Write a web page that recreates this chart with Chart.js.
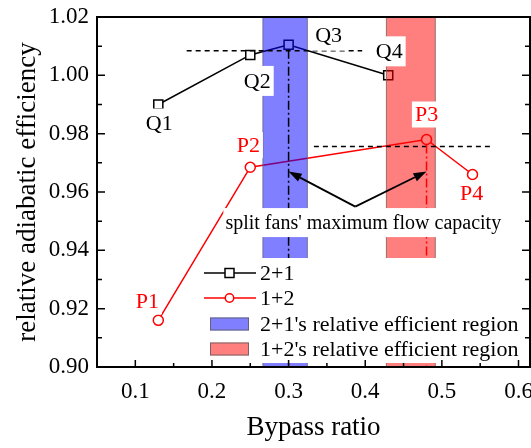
<!DOCTYPE html>
<html>
<head>
<meta charset="utf-8">
<script src="https://cdn.jsdelivr.net/npm/chart.js@4.4.0/dist/chart.umd.min.js"></script>
<style>
  html, body { margin: 0; padding: 0; background: #fff; }
  canvas { display: block; }
</style>
</head>
<body>
<canvas id="effChart" width="531" height="448"></canvas>
<script>
// data
const bypass21 = [0.13, 0.25, 0.30, 0.43];
const eff21 = [0.990, 1.007, 1.0105, 1.000];
const names21 = ['Q1', 'Q2', 'Q3', 'Q4'];
const bypass12 = [0.13, 0.25, 0.48, 0.54];
const eff12 = [0.916, 0.9685, 0.978, 0.966];
const names12 = ['P1', 'P2', 'P3', 'P4'];
const region21 = [0.266, 0.325];
const region12 = [0.427, 0.492];
const maxFlow = [0.30, 0.48];
const refLine21 = [0.167, 0.396, 1.0084];
const refLine12 = [0.333, 0.567, 0.9756];
const arrowFrom = [0.387, 0.955];
const arrowTo = [[0.30, 0.967], [0.48, 0.967]];
const xTicks = [0.1, 0.2, 0.3, 0.4, 0.5, 0.6];
const yTicks = [0.90, 0.92, 0.94, 0.96, 0.98, 1.00, 1.02];
const xMinor = [0.15, 0.25, 0.35, 0.45, 0.55];
const yMinor = [0.91, 0.93, 0.95, 0.97, 0.99, 1.01];

const SERIF = "'Liberation Serif', 'Times New Roman', serif";
const BLUE_BAND = 'rgba(0, 0, 255, 0.5)';
const RED_BAND = 'rgba(255, 0, 0, 0.5)';

// label offsets (px) from each point
const offs21 = [[1, 19], [7, 26], [40, -9], [1, -24]];
const offs12 = [[-11, -19], [-2, -22], [0, -25], [-1, 19]];

function whiteLabel(ctx, text, cx, cy, color, font, padX, h) {
    ctx.font = font;
    const w = ctx.measureText(text).width;
    ctx.fillStyle = '#fff';
    ctx.fillRect(cx - w / 2 - padX, cy - h / 2, w + padX * 2, h);
    ctx.fillStyle = color;
    ctx.textAlign = 'center';
    ctx.textBaseline = 'middle';
    ctx.fillText(text, cx, cy + 1);
}

function arrow(ctx, x0, y0, x1, y1) {
    const ang = Math.atan2(y1 - y0, x1 - x0);
    const len = 13, half = 4.5;
    const bx = x1 - len * Math.cos(ang), by = y1 - len * Math.sin(ang);
    ctx.beginPath();
    ctx.moveTo(x0, y0);
    ctx.lineTo(bx, by);
    ctx.stroke();
    ctx.beginPath();
    ctx.moveTo(x1, y1);
    ctx.lineTo(bx + half * Math.sin(ang), by - half * Math.cos(ang));
    ctx.lineTo(bx - half * Math.sin(ang), by + half * Math.cos(ang));
    ctx.closePath();
    ctx.fill();
}

const decorPlugin = {
    id: 'decor',
    afterDatasetsDraw(chart) {
        const { ctx, chartArea: a, scales: { x, y } } = chart;
        const px = v => x.getPixelForValue(v);
        const py = v => y.getPixelForValue(v);
        ctx.save();

        // efficient regions, over the lines
        [[region21, BLUE_BAND], [region12, RED_BAND]].forEach(([r, c]) => {
            const l = px(r[0]), rr = px(r[1]);
            ctx.fillStyle = c;
            ctx.fillRect(l, a.top, rr - l, a.bottom - a.top);
            ctx.strokeStyle = 'rgba(110,110,110,0.7)';
            ctx.lineWidth = 1;
            ctx.strokeRect(l + 0.5, a.top, rr - l - 1, a.bottom - a.top);
        });

        // dashed reference lines
        ctx.strokeStyle = '#000';
        ctx.lineWidth = 1.5;
        ctx.setLineDash([5, 4]);
        [refLine21, refLine12].forEach(r => {
            ctx.beginPath();
            ctx.moveTo(px(r[0]), py(r[2]));
            ctx.lineTo(px(r[1]), py(r[2]));
            ctx.stroke();
        });

        // dash-dot max flow lines
        ctx.setLineDash([9, 3, 2, 3]);
        [[maxFlow[0], eff21[2], '#000'], [maxFlow[1], eff12[2], '#ff0000']].forEach(([v, top, c]) => {
            ctx.strokeStyle = c;
            ctx.beginPath();
            ctx.moveTo(px(v), py(top) + 5);
            ctx.lineTo(px(v), a.bottom);
            ctx.stroke();
        });
        ctx.setLineDash([]);

        // arrows
        ctx.strokeStyle = '#000';
        ctx.fillStyle = '#000';
        ctx.lineWidth = 1.8;
        arrowTo.forEach(t => arrow(ctx, px(arrowFrom[0]), py(arrowFrom[1]), px(t[0]), py(t[1])));

        // point labels
        const lf = '22px ' + SERIF;
        bypass21.forEach((b, i) => whiteLabel(ctx, names21[i], px(b) + offs21[i][0], py(eff21[i]) + offs21[i][1], '#000', lf, 3, 30));
        bypass12.forEach((b, i) => whiteLabel(ctx, names12[i], px(b) + offs12[i][0], py(eff12[i]) + offs12[i][1], '#ff0000', lf, 3, 26));

        // annotation
        whiteLabel(ctx, "split fans' maximum flow capacity", px(arrowFrom[0]) + 8, py(arrowFrom[1]) + 16, '#000', '20px ' + SERIF, 2, 29);

        // legend
        const lx = a.left + 104, ly = a.top + 241;
        ctx.fillStyle = '#fff';
        ctx.fillRect(lx, ly, 322, 105);
        const rows = [ly + 15, ly + 40, ly + 66, ly + 91];
        const ds = chart.data.datasets;
        ctx.font = '22px ' + SERIF;
        ctx.textAlign = 'left';
        ctx.textBaseline = 'middle';
        [0, 1].forEach(k => {
            const d = ds[k], yy = rows[k];
            ctx.strokeStyle = d.borderColor;
            ctx.lineWidth = 1.5;
            ctx.beginPath();
            ctx.moveTo(lx + 3, yy);
            ctx.lineTo(lx + 55, yy);
            ctx.stroke();
            ctx.fillStyle = '#fff';
            ctx.lineWidth = 1.5;
            if (d.pointStyle === 'rect') {
                ctx.fillRect(lx + 24, yy - 4.5, 9, 9);
                ctx.strokeRect(lx + 24, yy - 4.5, 9, 9);
            } else {
                ctx.beginPath();
                ctx.arc(lx + 28.5, yy, 4.2, 0, Math.PI * 2);
                ctx.fill();
                ctx.stroke();
            }
            ctx.fillStyle = '#000';
            ctx.fillText(d.label, lx + 59, yy + 1);
        });
        [[BLUE_BAND, "2+1's relative efficient region"], [RED_BAND, "1+2's relative efficient region"]].forEach(([c, t], k) => {
            const yy = rows[k + 2];
            ctx.fillStyle = c;
            ctx.fillRect(lx + 9, yy - 6.5, 39, 13);
            ctx.strokeStyle = 'rgba(90,90,90,0.8)';
            ctx.lineWidth = 1;
            ctx.strokeRect(lx + 9.5, yy - 6, 38, 12);
            ctx.fillStyle = '#000';
            ctx.fillText(t, lx + 59, yy + 1);
        });

        // frame and inward ticks
        ctx.strokeStyle = '#000';
        ctx.lineWidth = 2;
        ctx.strokeRect(a.left, a.top, a.right - a.left, a.bottom - a.top);
        ctx.lineWidth = 1.5;
        ctx.beginPath();
        xTicks.forEach(v => { ctx.moveTo(px(v), a.bottom); ctx.lineTo(px(v), a.bottom - 7); });
        xMinor.forEach(v => { ctx.moveTo(px(v), a.bottom); ctx.lineTo(px(v), a.bottom - 4); });
        yTicks.forEach(v => {
            ctx.moveTo(a.left, py(v)); ctx.lineTo(a.left + 8, py(v));
            ctx.moveTo(a.right, py(v)); ctx.lineTo(a.right - 8, py(v));
        });
        yMinor.forEach(v => {
            ctx.moveTo(a.left, py(v)); ctx.lineTo(a.left + 5, py(v));
            ctx.moveTo(a.right, py(v)); ctx.lineTo(a.right - 5, py(v));
        });
        ctx.stroke();
        ctx.restore();
    }
};

document.addEventListener('DOMContentLoaded', function() {
    const canvas = document.getElementById('effChart');
    new Chart(canvas.getContext('2d'), {
        type: 'line',
        data: {
            datasets: [{
                label: '2+1',
                data: bypass21.map((b, i) => ({ x: b, y: eff21[i] })),
                borderColor: '#000',
                borderWidth: 1.5,
                pointStyle: 'rect',
                pointRadius: 6.4,
                pointBorderWidth: 1.5,
                pointBackgroundColor: '#fff',
                pointBorderColor: '#000',
                tension: 0
            }, {
                label: '1+2',
                data: bypass12.map((b, i) => ({ x: b, y: eff12[i] })),
                borderColor: '#ff0000',
                borderWidth: 1.5,
                pointStyle: 'circle',
                pointRadius: 5,
                pointBorderWidth: 1.5,
                pointBackgroundColor: '#fff',
                pointBorderColor: '#ff0000',
                tension: 0
            }]
        },
        options: {
            responsive: false,
            animation: false,
            devicePixelRatio: 1,
            layout: { autoPadding: false, padding: { top: 17, right: 1, left: 0, bottom: 0 } },
            plugins: { legend: { display: false }, tooltip: { enabled: false } },
            scales: {
                x: {
                    type: 'linear',
                    min: 0.05,
                    max: 0.615,
                    afterBuildTicks: s => { s.ticks = xTicks.map(v => ({ value: v })); },
                    afterFit: s => { s.height = 81; s.paddingLeft = 0; s.paddingRight = 0; },
                    grid: { display: false, drawTicks: false },
                    border: { display: false },
                    ticks: {
                        padding: 11,
                        color: '#000',
                        font: { family: SERIF, size: 23 },
                        callback: v => v.toFixed(1)
                    },
                    title: {
                        display: true,
                        text: 'Bypass ratio',
                        color: '#000',
                        font: { family: SERIF, size: 27 },
                        padding: { top: 0, bottom: 4 }
                    }
                },
                y: {
                    min: 0.90,
                    max: 1.02,
                    afterBuildTicks: s => { s.ticks = yTicks.map(v => ({ value: v })); },
                    afterFit: s => { s.width = 97; s.paddingTop = 0; s.paddingBottom = 0; },
                    grid: { display: false, drawTicks: false },
                    border: { display: false },
                    ticks: {
                        padding: 8,
                        color: '#000',
                        font: { family: SERIF, size: 23 },
                        callback: v => v.toFixed(2)
                    },
                    title: {
                        display: true,
                        text: 'relative adiabatic efficiency',
                        color: '#000',
                        font: { family: SERIF, size: 27 },
                        padding: { top: 12, bottom: 0 }
                    }
                }
            }
        },
        plugins: [decorPlugin]
    });
});
</script>
</body>
</html>
